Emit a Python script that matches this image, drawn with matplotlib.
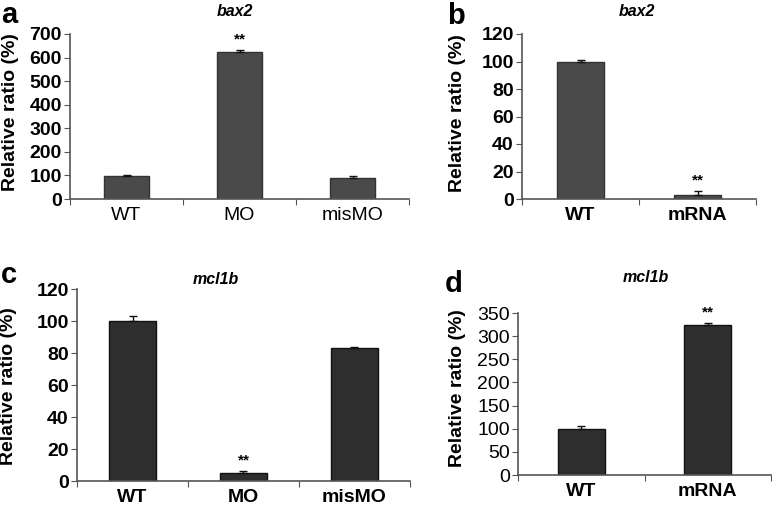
import matplotlib
matplotlib.use('Agg')
import matplotlib.pyplot as plt
import numpy as np

plt.rcParams['font.family'] = ['Liberation Sans', 'DejaVu Sans']

# panel data
a_cats = ['WT', 'MO', 'misMO']
a_vals = [97, 625, 90]
a_err = [6, 7, 6]

b_cats = ['WT', 'mRNA']
b_vals = [100, 3]
b_err = [1, 3]

c_cats = ['WT', 'MO', 'misMO']
c_vals = [100, 5, 83]
c_err = [3, 1, 0.5]

d_cats = ['WT', 'mRNA']
d_vals = [100, 325]
d_err = [5, 3]

W, H = 773, 508
fig = plt.figure(figsize=(W / 100, H / 100), dpi=100)


def px_axes(x0, y_top, x1, y_bot):
    return fig.add_axes([x0 / W, 1 - y_bot / H, (x1 - x0) / W, (y_bot - y_top) / H])


def panel(ax, cats, vals, err, ymax, step, color, width, sig, xbold, ybold, shadow):
    n = len(cats)
    x = np.arange(n) + 0.5
    ax.bar(x, vals, width, color=color, edgecolor='#111111' if shadow else '#333333',
           linewidth=1.0, zorder=2)
    ax.errorbar(x, vals, yerr=[np.zeros(n), err], fmt='none', ecolor='#111111',
                elinewidth=1.0, capsize=3, capthick=1.0, zorder=3)
    for i in sig:
        ax.text(x[i], vals[i] + err[i] + ymax * 0.02, '**', ha='center', va='bottom',
                fontsize=11, fontweight='bold')
    ax.set_xlim(0, n)
    ax.set_ylim(0, ymax)
    ax.set_yticks(np.arange(0, ymax + 1, step))
    ax.set_xticks(np.arange(n + 1))
    ax.set_xticklabels([])
    ax.set_xticks(x, minor=True)
    ax.set_xticklabels(cats, minor=True, fontsize=14,
                       fontweight='bold' if xbold else 'normal')
    ax.tick_params(axis='x', which='minor', length=0, pad=6)
    ax.tick_params(axis='x', which='major', length=4, direction='out', color='#555555')
    ax.tick_params(axis='y', length=4, direction='out', color='#555555', pad=2,
                   labelsize=14)
    for lab in ax.get_yticklabels():
        lab.set_fontweight('bold' if ybold else 'normal')
    for s in ['top', 'right']:
        ax.spines[s].set_visible(False)
    for s in ['left', 'bottom']:
        ax.spines[s].set_color('#555555')
        ax.spines[s].set_linewidth(1.2)


ax_a = px_axes(70, 34, 409, 199)
panel(ax_a, a_cats, a_vals, a_err, 700, 100, '#4a4a4a', 0.4, [1], False, True, False)

ax_b = px_axes(522, 34, 756, 199)
panel(ax_b, b_cats, b_vals, b_err, 120, 20, '#4a4a4a', 0.4, [1], True, True, False)

ax_c = px_axes(77, 289, 410, 481)
panel(ax_c, c_cats, c_vals, c_err, 120, 20, '#2e2e2e', 0.42, [1], True, True, True)

ax_d = px_axes(518, 313, 771, 475)
panel(ax_d, d_cats, d_vals, d_err, 350, 50, '#2e2e2e', 0.37, [1], True, False, True)

# y labels
ylab = 'Relative ratio (%)'
for xp, yp in [(11, 112), (457, 113), (9, 386), (457, 388)]:
    fig.text(xp / W, 1 - yp / H, ylab, rotation=90, ha='center', va='center',
             fontsize=14, fontweight='bold')

# gene titles
for xp, yp, t in [(235, 12, 'bax2'), (637, 11, 'bax2'), (216, 280, 'mcl1b'), (646, 277, 'mcl1b')]:
    fig.text(xp / W, 1 - yp / H, t, ha='center', va='center', fontsize=11.5,
             fontweight='bold', fontstyle='italic')

# panel letters
for xp, yp, t in [(1, 23, 'a'), (447, 24, 'b'), (1, 283, 'c'), (445, 292, 'd')]:
    fig.text(xp / W, 1 - yp / H, t, ha='left', va='baseline', fontsize=21,
             fontweight='bold')

fig.savefig('out.png', dpi=100)
